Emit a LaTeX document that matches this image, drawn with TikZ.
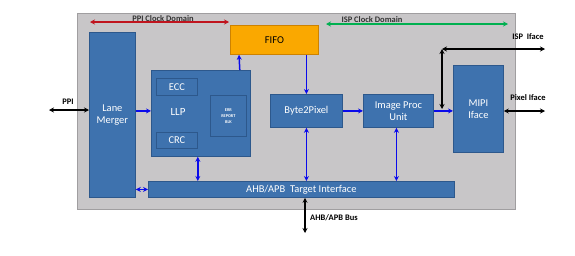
\documentclass[tikz,border=0pt]{standalone}
\usepackage{fontspec}
\setmainfont{Carlito}
\usetikzlibrary{arrows.meta,calc}
\definecolor{bgfill}{RGB}{200,198,200}
\definecolor{bgline}{RGB}{160,158,160}
\definecolor{blkfill}{RGB}{62,114,174}
\definecolor{blkline}{RGB}{45,88,140}
\definecolor{fifofill}{RGB}{250,168,0}
\definecolor{fifoline}{RGB}{205,130,0}
\definecolor{ppired}{RGB}{192,20,30}
\definecolor{ispgreen}{RGB}{0,176,80}
\definecolor{arrblue}{RGB}{10,10,235}
\tikzset{
  bgbox/.style={draw=bgline, fill=bgfill, line width=1pt, anchor=north west, inner sep=0pt},
  blk/.style={draw=blkline, fill=blkfill, line width=0.8pt, anchor=north west, inner sep=0pt,
    text=white, font=\fontsize{10.5}{12}\selectfont, align=center},
  fifobox/.style={draw=fifoline, fill=fifofill, line width=0.8pt, anchor=north west, inner sep=0pt,
    font=\fontsize{10.5}{12}\selectfont},
  barrow/.style={draw=arrblue, line width=1.5pt, -{Stealth[length=5pt,width=5pt]}},
  bbiarrow/.style={draw=arrblue, line width=1.5pt, {Stealth[length=5pt,width=5pt]}-{Stealth[length=5pt,width=5pt]}},
  kbiarrow/.style={draw=black, line width=1.6pt, {Stealth[length=5pt,width=5pt]}-{Stealth[length=5pt,width=5pt]}},
  lbl/.style={font=\bfseries\fontsize{8.5}{10}\selectfont, inner sep=0pt},
}
\begin{document}
\begin{tikzpicture}[x=1bp,y=-1bp]
\useasboundingbox (0,0) rectangle (575,255);
% background
\node[bgbox, minimum width=438bp, minimum height=196bp] (bg) at (77,13) {};
% blocks
\node[blk, minimum width=46bp, minimum height=165bp] (lm) at (89,32) {Lane\\Merger};
\node[blk, minimum width=99bp, minimum height=86bp] (llp) at (151,70) {};
\node[text=white, font=\fontsize{11}{12}\selectfont] (llpt) at (178,112) {LLP};
\node[blk, minimum width=41bp, minimum height=17bp] (ecc) at (156,78) {ECC};
\node[blk, minimum width=41bp, minimum height=16bp] (crc) at (156,132) {CRC};
\node[blk, minimum width=36bp, minimum height=41bp, font=\bfseries\fontsize{4.3}{6}\selectfont] (err) at (210,95) {ERR\\REPORT\\BLK};
\node[fifobox, minimum width=88bp, minimum height=29bp] (fifo) at (230,25) {FIFO};
\node[blk, minimum width=72bp, minimum height=33bp] (b2p) at (270,94) {Byte2Pixel};
\node[blk, minimum width=70bp, minimum height=33bp] (ipu) at (363,94) {Image Proc\\Unit};
\node[blk, minimum width=50bp, minimum height=87bp] (mipi) at (453,65) {MIPI\\Iface};
\node[blk, minimum width=306bp, minimum height=16bp] (ahb) at (148,181) {AHB/APB\ \ Target Interface};
% clock domains
\coordinate (ppiL) at (90,22);
\coordinate (ppiR) at (229,22);
\draw[draw=ppired, line width=1.3pt, {Stealth[length=5pt,width=5pt]}-{Stealth[length=5pt,width=5pt]}] (ppiL) -- (ppiR);
\node[lbl, text=black!80] (ppicd) at (163,19) {PPI Clock Domain};
\coordinate (ispL) at (326,24);
\coordinate (ispR) at (508,24);
\draw[draw=ispgreen, line width=1.3pt, {Stealth[length=5pt,width=5pt]}-{Stealth[length=5pt,width=5pt]}] (ispL) -- (ispR);
\node[lbl, text=black!80] (ispcd) at (372,20) {ISP Clock Domain};
% data path arrows
\draw[barrow] (lm.east |- b2p.west) -- (llp.west |- b2p.west);
\draw[barrow] ($(llp.north east)+(-11,0)$) -- ($(fifo.south west)+(9,0)$);
\draw[barrow] (fifo.south -| b2p.north) -- (b2p.north);
\draw[barrow] (b2p.east) -- (ipu.west);
\draw[barrow] (ipu.east) -- (mipi.west |- ipu.east);
% bus arrows
\draw[bbiarrow] (lm.east |- ahb.west) -- (ahb.west);
\draw[bbiarrow] (llp.south -| crc.east) -- (ahb.north -| crc.east);
\draw[bbiarrow] (b2p.south) -- (ahb.north -| b2p.south);
\draw[bbiarrow] ($(ipu.south)+(-2,0)$) -- ($(ahb.north -| ipu.south)+(-2,0)$);
% external interfaces
\coordinate (ppiext) at (49,110);
\draw[kbiarrow] (ppiext) -- (lm.west |- ppiext);
\node[lbl] (ppil) at (68,102) {PPI};
\coordinate (ispjoin) at (442,109);
\coordinate (ispcorner) at (442,49);
\coordinate (ispext) at (545,49);
\draw[kbiarrow] (ispjoin) -- (ispcorner);
\draw[kbiarrow] (ispcorner) -- (ispext);
\node[lbl] (ispl) at (528,37) {ISP\ \ Iface};
\coordinate (pixext) at (545,111);
\draw[kbiarrow] (mipi.east |- pixext) -- (pixext);
\node[lbl] (pixl) at (528,98) {Pixel Iface};
\coordinate (busext) at (305,233);
\draw[kbiarrow] (ahb.south -| busext) -- (busext);
\node[lbl, anchor=west] (busl) at (310,218) {AHB/APB Bus};
\end{tikzpicture}
\end{document}
